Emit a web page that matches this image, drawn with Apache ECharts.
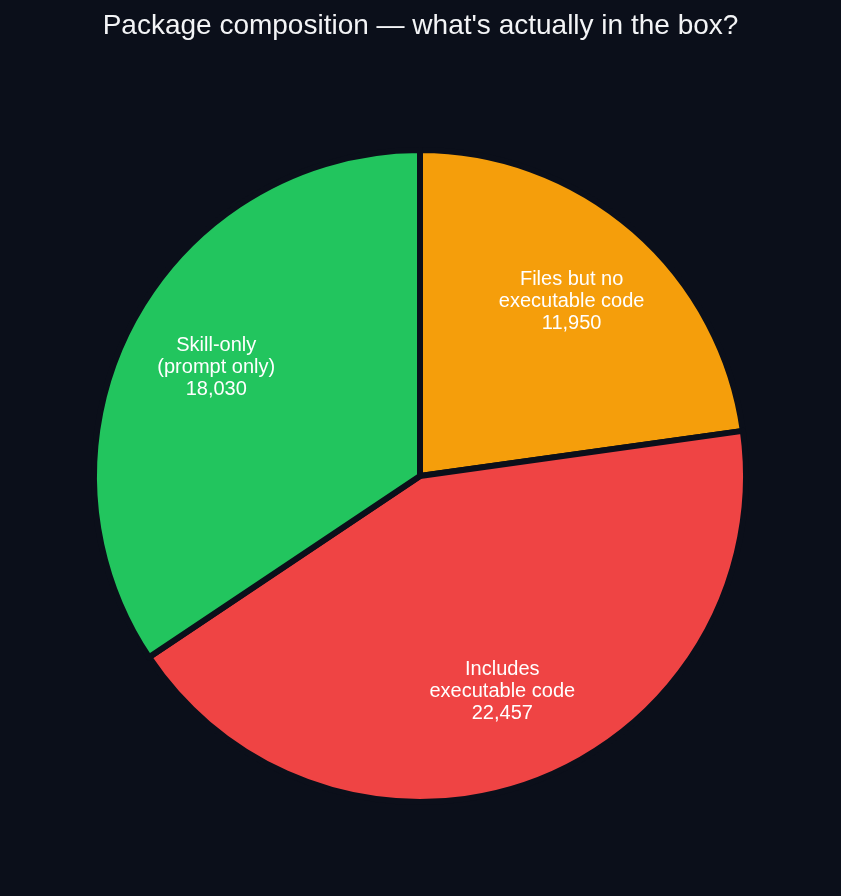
<!DOCTYPE html>
<html>
<head>
<meta charset="utf-8">
<script src="https://cdn.jsdelivr.net/npm/echarts@6/dist/echarts.min.js"></script>
<style>
  html, body { margin: 0; padding: 0; background: #0b0f1a; }
  #main { width: 841px; height: 896px; }
</style>
</head>
<body>
<div id="main"></div>
<script>
var categories = ['Files but no\nexecutable code', 'Includes\nexecutable code', 'Skill-only\n(prompt only)'];
var counts = [11950, 22457, 18030];
var colors = ['#f59e0b', '#ef4444', '#22c55e'];

var pieData = categories.map(function (name, i) {
    return { name: name, value: counts[i], itemStyle: { color: colors[i] } };
});

var myChart = echarts.init(document.getElementById('main'));
option = {
    backgroundColor: '#0b0f1a',
    animation: false,
    title: {
        text: 'Package composition — what\'s actually in the box?',
        left: 'center',
        top: 7,
        textStyle: {
            color: '#f3f4f6',
            fontSize: 28,
            fontWeight: 'normal',
            fontFamily: 'Liberation Sans'
        }
    },
    series: [
        {
            // the slices
            type: 'pie',
            center: [420, 476],
            radius: 326,
            startAngle: 90,
            clockwise: true,
            silent: true,
            label: { show: false },
            labelLine: { show: false },
            itemStyle: { borderColor: '#0b0f1a', borderWidth: 6 },
            data: pieData
        },
        {
            // invisible ring, only to put the labels at ~0.7 of the radius
            type: 'pie',
            center: [420, 476],
            radius: [134, 322],
            startAngle: 90,
            clockwise: true,
            silent: true,
            itemStyle: { color: 'transparent' },
            label: {
                show: true,
                position: 'inside',
                color: '#ffffff',
                fontSize: 20,
                lineHeight: 22,
                fontFamily: 'Liberation Sans',
                formatter: function (p) {
                    return p.name + '\n' + p.value.toLocaleString('en-US');
                }
            },
            labelLine: { show: false },
            data: categories.map(function (name, i) {
                return { name: name, value: counts[i] };
            })
        }
    ]
};
myChart.setOption(option);
</script>
</body>
</html>
